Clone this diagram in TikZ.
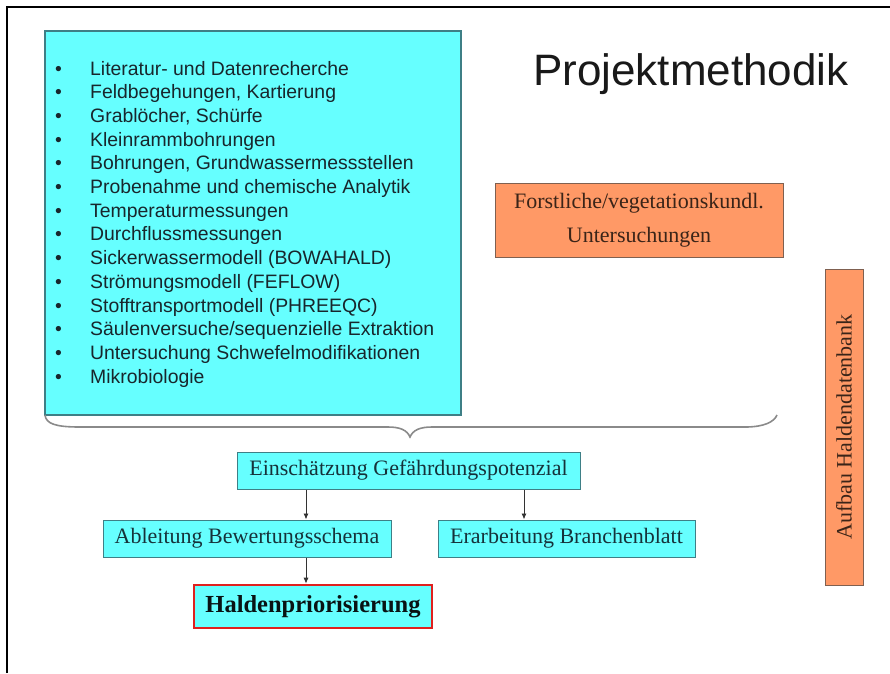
\documentclass[tikz,border=0pt]{standalone}
\usepackage{fontspec}
\setmainfont{Liberation Serif}
\newfontfamily\arialf{Liberation Sans}
\usetikzlibrary{arrows.meta}
\definecolor{cyanfill}{HTML}{66FFFF}
\definecolor{cyanedge}{HTML}{3E7F86}
\definecolor{orangefill}{HTML}{FF9966}
\definecolor{orangeedge}{HTML}{7F6050}
\definecolor{orangetext}{HTML}{3A2418}
\definecolor{boxtext}{HTML}{16323A}
\definecolor{listtext}{HTML}{18262C}
\definecolor{rededge}{HTML}{E0201E}
\definecolor{bracegray}{HTML}{8A8A8A}
\tikzset{
  cbox/.style={draw=cyanedge, fill=cyanfill, line width=1pt, inner sep=0pt, text=boxtext, font=\fontsize{22}{26}\selectfont},
  obox/.style={draw=orangeedge, fill=orangefill, line width=1pt, inner sep=0pt, text=orangetext, font=\fontsize{22}{34}\selectfont, align=center},
  listitem/.style={anchor=base west, inner sep=0pt, text=listtext, font=\arialf\fontsize{19.4}{23}\selectfont},
  arr/.style={draw=black!80, line width=0.9pt, -{Latex[length=6pt,width=5pt]}},
}
\begin{document}
\begin{tikzpicture}[x=1pt,y=-1pt]
\useasboundingbox (0,0) rectangle (890,673);
% frame
\draw[line width=2pt, black] (7,673) -- (7,7) -- (890,7);
% big list box
\node[draw=cyanedge, fill=cyanfill, line width=1.2pt, minimum width=416pt, minimum height=384pt, inner sep=0pt] (list) at (253,223) {};
\foreach \t [count=\i from 0] in {Literatur- und Datenrecherche,Feldbegehungen{,} Kartierung,Grablöcher{,} Schürfe,Kleinrammbohrungen,Bohrungen{,} Grundwassermessstellen,Probenahme und chemische Analytik,Temperaturmessungen,Durchflussmessungen,Sickerwassermodell (BOWAHALD),Strömungsmodell (FEFLOW),Stofftransportmodell (PHREEQC),Säulenversuche/sequenzielle Extraktion,Untersuchung Schwefelmodifikationen,Mikrobiologie} {
  \node[listitem] (b\i) at (55,75+23.7*\i) {•};
  \node[listitem] (l\i) at (90,75+23.7*\i) {\t};
}
% title
\node[anchor=base west, inner sep=0pt, font=\arialf\fontsize{44}{50}\selectfont, text=black!90] (title) at (533,85) {Projektmethodik};
% orange boxes
\node[obox, minimum width=288pt, minimum height=74pt] (forst) at (639,220) {Forstliche/vegetationskundl.\\Untersuchungen};
\node[obox, rotate=90, minimum width=316pt, minimum height=38pt] (aufbau) at (844,427) {Aufbau Haldendatenbank};
% brace
\coordinate (bl) at (45,415);
\coordinate (br) at (777,415);
\coordinate (tip) at (410,437);
\draw[bracegray, line width=1.6pt] (bl) .. controls (46,424) and (56,427) .. (80,427) -- (388,427) .. controls (400,427) and (407,430) .. (tip) .. controls (413,430) and (420,427) .. (432,427) -- (745,427) .. controls (764,427) and (774,422) .. (br);
% flow boxes
\node[cbox, minimum width=343pt, minimum height=37pt] (ein) at (408.5,470.5) {Einschätzung Gefährdungspotenzial};
\node[cbox, minimum width=288pt, minimum height=37pt] (abl) at (247,538.5) {Ableitung Bewertungsschema};
\node[cbox, minimum width=257pt, minimum height=37pt] (erb) at (566.5,538.5) {Erarbeitung Branchenblatt};
\node[cbox, draw=rededge, line width=2.6pt, minimum width=238pt, minimum height=43pt, font=\bfseries\fontsize{24.5}{28}\selectfont, text=black!85!cyanedge] (hal) at (313,606.5) {Haldenpriorisierung};
% arrows
\coordinate (a1) at (306,0);
\coordinate (a2) at (524,0);
\draw[arr] (ein.south -| a1) -- (abl.north -| a1);
\draw[arr] (ein.south -| a2) -- (erb.north -| a2);
\draw[arr] (abl.south -| a1) -- (hal.north -| a1);
\end{tikzpicture}
\end{document}
